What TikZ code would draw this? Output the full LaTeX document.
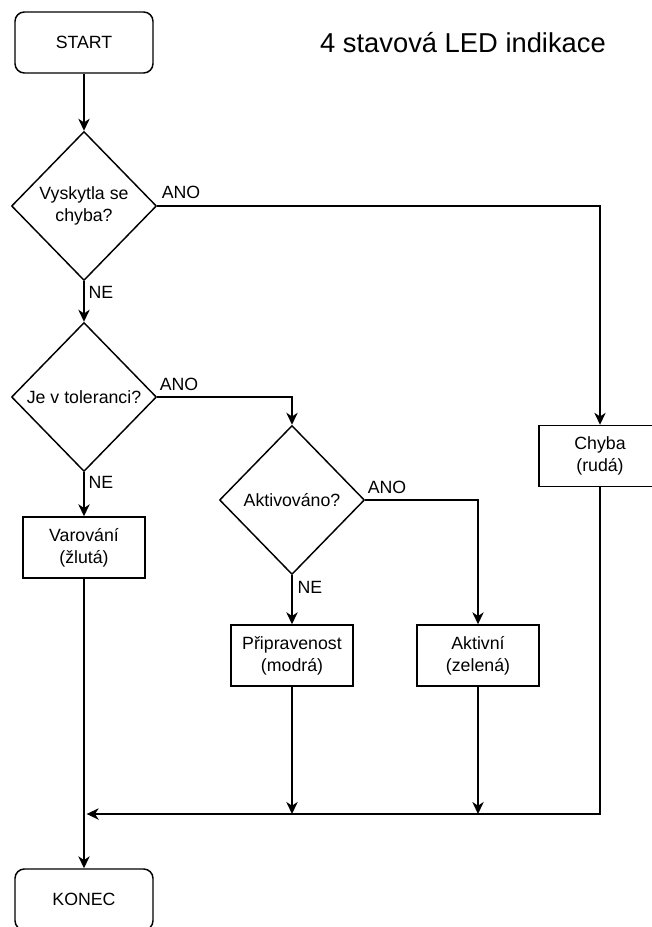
\documentclass[tikz,border=0pt]{standalone}
\usepackage{fontspec}
\setmainfont{Liberation Sans}
\usetikzlibrary{shapes.geometric,arrows.meta}
\begin{document}
\begin{tikzpicture}[x={(0.75pt,0)},y={(0,-0.75pt)},
  every node/.style={font=\fontsize{13.3}{16.5}\selectfont, text=black},
  term/.style={draw, rounded corners=7pt, minimum width=103.5pt, minimum height=45.75pt, inner sep=0pt, line width=1.1pt},
  proc/.style={draw, minimum width=91.5pt, minimum height=45.75pt, inner sep=0pt, align=center, line width=1.1pt},
  dec/.style={draw, shape=diamond, aspect=1, minimum width=108.75pt, minimum height=111.75pt, inner sep=0pt, align=center, line width=1.1pt},
  lbl/.style={inner sep=0pt},
  conn/.style={line width=1.1pt, -{Stealth[length=9pt,width=8.5pt,inset=2.8pt]}},
  plain/.style={line width=1.1pt}]
\useasboundingbox (0,0) rectangle (652,927);
\clip (0,0) rectangle (652,927);
\fill[white] (0,0) rectangle (652,927);

\node[term] (start) at (84,42.5) {START};
\node[lbl, font=\fontsize{20.5}{24}\selectfont] (title) at (463,43) {4 stavová LED indikace};

\node[dec] (d1) at (84,206) {Vyskytla se\\chyba?};
\node[dec] (d2) at (84,397) {Je v toleranci?};
\node[dec] (d3) at (292,500) {Aktivováno?};

\node[proc] (var) at (84,547.5) {Varování\\(žlutá)};
\node[proc] (prip) at (292,655.5) {Připravenost\\(modrá)};
\node[proc] (akt) at (478,655.5) {Aktivní\\(zelená)};
\node[proc] (chyba) at (600,456) {Chyba\\(rudá)};

\node[term] (konec) at (84,899.5) {KONEC};

\node[lbl] (ano1) at (181,192) {ANO};
\node[lbl] (ne1) at (101,292) {NE};
\node[lbl] (ano2) at (179,384) {ANO};
\node[lbl] (ne2) at (101,482) {NE};
\node[lbl] (ano3) at (387,487) {ANO};
\node[lbl] (ne3) at (310,587) {NE};

\coordinate (jr) at (600,814);
\coordinate (jl) at (84,814);
\coordinate (jp) at (292,814);
\coordinate (ja) at (478,814);

\draw[conn] (start) -- (d1);
\draw[conn] (d1.east) -| (chyba.north);
\draw[conn] (d1) -- (d2);
\draw[conn] (d2.east) -| (d3.north);
\draw[conn] (d2) -- (var);
\draw[conn] (d3.east) -| (akt.north);
\draw[conn] (d3) -- (prip);
\draw[conn] (var) -- (konec);
\draw[conn] (chyba.south) -- (jr) -- ([xshift=2pt]jl);
\draw[conn] (prip) -- (jp);
\draw[conn] (akt) -- (ja);
\end{tikzpicture}
\end{document}
